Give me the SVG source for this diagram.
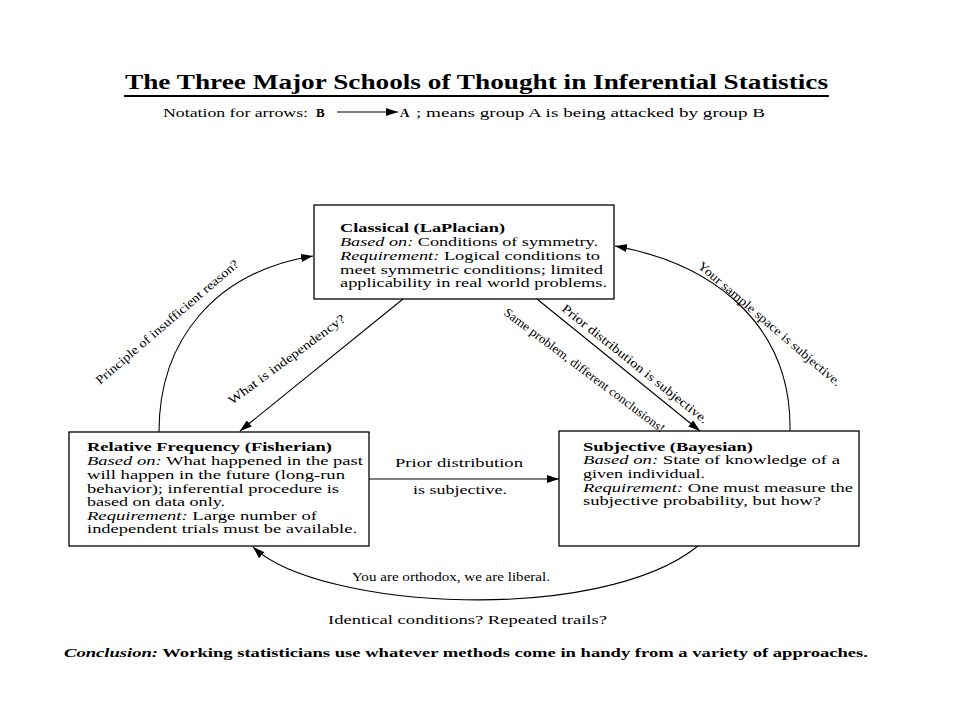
<svg xmlns="http://www.w3.org/2000/svg" width="960" height="720" viewBox="0 0 960 720">
<style>
text{font-family:"Liberation Serif","Times New Roman",serif;fill:#000}
.t{font-size:11.5px}
.n{font-size:13px}
.b{font-weight:bold}
.i{font-style:italic}
.lbl{font-size:12.5px}
.box{fill:#fff;stroke:#000;stroke-width:1.3}
.cn{fill:none;stroke:#000;stroke-width:1.1}
</style>
<defs>
<marker id="ah" viewBox="0 0 12 8" refX="12" refY="4" markerWidth="12" markerHeight="8" orient="auto" markerUnits="userSpaceOnUse"><path d="M0,0 L12,4 L0,8 z" fill="#000"/></marker>
</defs>
<rect width="960" height="720" fill="#fff"/>

<g id="title">
<text x="125" y="89" font-size="20" font-weight="bold" textLength="703" lengthAdjust="spacingAndGlyphs">The Three Major Schools of Thought in Inferential Statistics</text>
<line x1="124" y1="96" x2="829" y2="96" stroke="#000" stroke-width="2"/>
</g>

<g id="notation">
<text x="163" y="117" class="n" textLength="145" lengthAdjust="spacingAndGlyphs">Notation for arrows:</text>
<text x="316" y="117" class="n b">B</text>
<line x1="337" y1="112" x2="398" y2="112" class="cn" marker-end="url(#ah)"/>
<text x="400" y="117" class="n b">A</text>
<text x="416" y="117" class="n" textLength="349" lengthAdjust="spacingAndGlyphs">; means group A is being attacked by group B</text>
</g>

<g id="classical">
<rect x="314" y="205" width="300" height="94" class="box"/>
<text x="340" y="232" class="t b" textLength="165" lengthAdjust="spacingAndGlyphs">Classical (LaPlacian)</text>
<text x="340" y="246" class="t" textLength="258" lengthAdjust="spacingAndGlyphs"><tspan class="i">Based on:</tspan> Conditions of symmetry.</text>
<text x="340" y="260" class="t" textLength="260" lengthAdjust="spacingAndGlyphs"><tspan class="i">Requirement:</tspan> Logical conditions to</text>
<text x="340" y="274" class="t" textLength="263" lengthAdjust="spacingAndGlyphs">meet symmetric conditions; limited</text>
<text x="340" y="287" class="t" textLength="267" lengthAdjust="spacingAndGlyphs">applicability in real world problems.</text>
</g>

<g id="relfreq">
<rect x="69" y="432" width="300" height="114" class="box"/>
<text x="87" y="451" class="t b" textLength="245" lengthAdjust="spacingAndGlyphs">Relative Frequency (Fisherian)</text>
<text x="87" y="465" class="t" textLength="276" lengthAdjust="spacingAndGlyphs"><tspan class="i">Based on:</tspan>  What happened in the past</text>
<text x="87" y="479" class="t" textLength="258" lengthAdjust="spacingAndGlyphs">will happen in the future (long-run</text>
<text x="87" y="493" class="t" textLength="252" lengthAdjust="spacingAndGlyphs">behavior); inferential procedure is</text>
<text x="87" y="506" class="t" textLength="138" lengthAdjust="spacingAndGlyphs">based on data only.</text>
<text x="87" y="520" class="t" textLength="230" lengthAdjust="spacingAndGlyphs"><tspan class="i">Requirement:</tspan>  Large number of</text>
<text x="87" y="533" class="t" textLength="270" lengthAdjust="spacingAndGlyphs">independent trials must be available.</text>
</g>

<g id="subjective">
<rect x="559" y="431" width="300" height="115" class="box"/>
<text x="583" y="451" class="t b" textLength="170" lengthAdjust="spacingAndGlyphs">Subjective (Bayesian)</text>
<text x="583" y="464" class="t" textLength="257" lengthAdjust="spacingAndGlyphs"><tspan class="i">Based on:</tspan> State of knowledge of a</text>
<text x="583" y="478" class="t" textLength="122" lengthAdjust="spacingAndGlyphs">given individual.</text>
<text x="583" y="492" class="t" textLength="270" lengthAdjust="spacingAndGlyphs"><tspan class="i">Requirement:</tspan> One must measure the</text>
<text x="583" y="505" class="t" textLength="238" lengthAdjust="spacingAndGlyphs">subjective probability, but how?</text>
</g>

<g id="connectors">
<path d="M403,299 L240,431" class="cn" marker-end="url(#ah)"/>
<path d="M537,299 L700,431" class="cn" marker-end="url(#ah)"/>
<path d="M369,479 L559,479" class="cn" marker-end="url(#ah)"/>
<path d="M159,432 C159,340 215,272 313,256" class="cn" marker-end="url(#ah)"/>
<path d="M790,431 C792,330 720,265 615,246" class="cn" marker-end="url(#ah)"/>
<path d="M698,546 C600,625 320,610 253,547" class="cn" marker-end="url(#ah)"/>
</g>

<g id="labels">
<text x="100" y="385" class="lbl" transform="rotate(-40.6 100 385)" textLength="184" lengthAdjust="spacingAndGlyphs">Principle of insufficient reason?</text>
<text x="232" y="405" class="lbl" transform="rotate(-36.5 232 405)" textLength="142" lengthAdjust="spacingAndGlyphs">What is independency?</text>
<text x="561" y="310" class="lbl" transform="rotate(38.6 561 310)" textLength="183" lengthAdjust="spacingAndGlyphs">Prior distribution is subjective.</text>
<text x="503" y="314" class="lbl" transform="rotate(37 503 314)" textLength="198" lengthAdjust="spacingAndGlyphs">Same problem, different conclusions!</text>
<text x="697" y="267" class="lbl" transform="rotate(40.6 697 267)" textLength="184" lengthAdjust="spacingAndGlyphs">Your sample space is subjective.</text>
<text x="395" y="467" class="n" textLength="128" lengthAdjust="spacingAndGlyphs">Prior distribution</text>
<text x="413" y="494" class="n" textLength="94" lengthAdjust="spacingAndGlyphs">is subjective.</text>
<text x="352" y="581" class="n" textLength="198" lengthAdjust="spacingAndGlyphs">You are orthodox, we are liberal.</text>
<text x="328" y="624" class="n" textLength="279" lengthAdjust="spacingAndGlyphs">Identical conditions? Repeated trails?</text>
</g>

<g id="conclusion">
<text x="64" y="657" class="n b" textLength="804" lengthAdjust="spacingAndGlyphs"><tspan class="i">Conclusion:</tspan> Working statisticians use whatever methods come in handy from a variety of approaches.</text>
</g>
</svg>
